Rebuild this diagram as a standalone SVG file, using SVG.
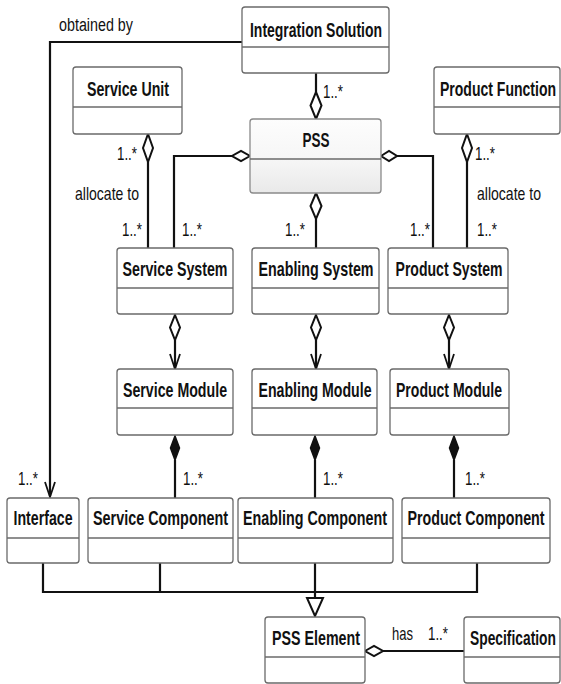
<svg xmlns="http://www.w3.org/2000/svg" width="561" height="684" viewBox="0 0 561 684">
<style>
.box{fill:#fff;stroke:#6a6a6a;stroke-width:1.3}
.div{stroke:#6a6a6a;stroke-width:1.3}
.nm{font-family:"Liberation Sans",Arial,sans-serif;font-weight:bold;font-size:21px;fill:#111;text-anchor:middle}
.lb{font-family:"Liberation Sans",Arial,sans-serif;font-size:18px;fill:#111}
.c{fill:none;stroke:#111;stroke-width:2.2}
.od{fill:#fff;stroke:#111;stroke-width:2}
.fd{fill:#111;stroke:#111;stroke-width:1.5}
.ar{fill:none;stroke:#111;stroke-width:1.8}
</style>
<defs>
<linearGradient id="g" x1="0" y1="0" x2="0" y2="1">
<stop offset="0" stop-color="#fdfdfd"/>
<stop offset="0.55" stop-color="#f6f6f6"/>
<stop offset="1" stop-color="#e9e9e9"/>
</linearGradient>
</defs>
<rect width="561" height="684" fill="#fff"/>

<g id="connectors">
<polyline class="c" points="242,42 50,42 50,496"/>
<polyline class="ar" points="45,482 50,497 55,482"/>
<line class="c" x1="316" y1="73" x2="316" y2="92"/>
<polygon class="od" points="316,92 321.5,105.5 316,119 310.5,105.5"/>
<line class="c" x1="148" y1="162" x2="148" y2="248"/>
<polygon class="od" points="148,134 153,148 148,162 143,148"/>
<polyline class="c" points="232,156 174,156 174,248"/>
<polygon class="od" points="250,156 241,161 232,156 241,151"/>
<line class="c" x1="316" y1="219" x2="316" y2="248"/>
<polygon class="od" points="316,193 321.5,206 316,219 310.5,206"/>
<polyline class="c" points="397,156 433,156 433,248"/>
<polygon class="od" points="381,156 389,151 397,156 389,161"/>
<line class="c" x1="467" y1="162" x2="467" y2="248"/>
<polygon class="od" points="467,134 472,148 467,162 462,148"/>

<line class="c" x1="175" y1="340" x2="175" y2="368"/>
<polygon class="od" points="175,315 180,327.5 175,340 170,327.5"/>
<polyline class="ar" points="170,354 175,369 180,354"/>
<line class="c" x1="316" y1="340" x2="316" y2="368"/>
<polygon class="od" points="316,315 321,327.5 316,340 311,327.5"/>
<polyline class="ar" points="311,354 316,369 321,354"/>
<line class="c" x1="449" y1="340" x2="449" y2="368"/>
<polygon class="od" points="449,315 454,327.5 449,340 444,327.5"/>
<polyline class="ar" points="444,354 449,369 454,354"/>

<line class="c" x1="175" y1="460" x2="175" y2="498"/>
<polygon class="fd" points="175,436 179.5,448 175,460 170.5,448"/>
<line class="c" x1="315" y1="460" x2="315" y2="498"/>
<polygon class="fd" points="315,436 319.5,448 315,460 310.5,448"/>
<line class="c" x1="454" y1="460" x2="454" y2="498"/>
<polygon class="fd" points="454,436 458.5,448 454,460 449.5,448"/>

<polyline class="c" points="43,563 43,592 477,592 477,563"/>
<line class="c" x1="160" y1="563" x2="160" y2="592"/>
<line class="c" x1="315" y1="563" x2="315" y2="598"/>
<polygon class="od" points="307,598 323,598 315,616"/>

<line class="c" x1="383" y1="651" x2="464" y2="651"/>
<polygon class="od" points="365,651 374,646 383,651 374,656"/>

<text class="lb" transform="translate(59,31) scale(0.795,1)" textLength="93" lengthAdjust="spacingAndGlyphs">obtained by</text>
<text class="lb" transform="translate(323,98) scale(0.74,1)" textLength="27" lengthAdjust="spacingAndGlyphs">1..*</text>
<text class="lb" transform="translate(117,160) scale(0.74,1)" textLength="27" lengthAdjust="spacingAndGlyphs">1..*</text>
<text class="lb" transform="translate(75,200) scale(0.78,1)" textLength="82" lengthAdjust="spacingAndGlyphs">allocate to</text>
<text class="lb" transform="translate(122,236) scale(0.74,1)" textLength="27" lengthAdjust="spacingAndGlyphs">1..*</text>
<text class="lb" transform="translate(182,236) scale(0.74,1)" textLength="27" lengthAdjust="spacingAndGlyphs">1..*</text>
<text class="lb" transform="translate(285,236) scale(0.74,1)" textLength="27" lengthAdjust="spacingAndGlyphs">1..*</text>
<text class="lb" transform="translate(410,236) scale(0.74,1)" textLength="27" lengthAdjust="spacingAndGlyphs">1..*</text>
<text class="lb" transform="translate(475,160) scale(0.74,1)" textLength="27" lengthAdjust="spacingAndGlyphs">1..*</text>
<text class="lb" transform="translate(477,200) scale(0.78,1)" textLength="82" lengthAdjust="spacingAndGlyphs">allocate to</text>
<text class="lb" transform="translate(477,236) scale(0.74,1)" textLength="27" lengthAdjust="spacingAndGlyphs">1..*</text>
<text class="lb" transform="translate(18,485) scale(0.74,1)" textLength="27" lengthAdjust="spacingAndGlyphs">1..*</text>
<text class="lb" transform="translate(183,485) scale(0.74,1)" textLength="27" lengthAdjust="spacingAndGlyphs">1..*</text>
<text class="lb" transform="translate(323,485) scale(0.74,1)" textLength="27" lengthAdjust="spacingAndGlyphs">1..*</text>
<text class="lb" transform="translate(465,485) scale(0.74,1)" textLength="27" lengthAdjust="spacingAndGlyphs">1..*</text>
<text class="lb" transform="translate(392,640) scale(0.724,1)" textLength="29" lengthAdjust="spacingAndGlyphs">has</text>
<text class="lb" transform="translate(428,640) scale(0.74,1)" textLength="27" lengthAdjust="spacingAndGlyphs">1..*</text>
</g>

<g id="integration-solution">
<rect class="box" x="242" y="7" width="147" height="66" rx="3"/>
<line class="div" x1="242" y1="47" x2="389" y2="47"/>
<text class="nm" transform="translate(316,37) scale(0.666,1)" textLength="198.3" lengthAdjust="spacingAndGlyphs">Integration Solution</text>
</g>
<g id="service-unit">
<rect class="box" x="73" y="67" width="109" height="67" rx="3"/>
<line class="div" x1="73" y1="107" x2="182" y2="107"/>
<text class="nm" transform="translate(128,96) scale(0.675,1)" textLength="121.4" lengthAdjust="spacingAndGlyphs">Service Unit</text>
</g>
<g id="product-function">
<rect class="box" x="434" y="67" width="126" height="67" rx="3"/>
<line class="div" x1="434" y1="107" x2="560" y2="107"/>
<text class="nm" transform="translate(498,96) scale(0.622,1)" textLength="186.5" lengthAdjust="spacingAndGlyphs">Product Function</text>
</g>
<g id="pss">
<rect x="250" y="119" width="131" height="74" rx="3" fill="url(#g)" stroke="#8a8a8a" stroke-width="1.3"/>
<line class="div" x1="250" y1="159" x2="381" y2="159"/>
<text class="nm" transform="translate(316,147) scale(0.643,1)" textLength="42" lengthAdjust="spacingAndGlyphs">PSS</text>
</g>
<g id="service-system">
<rect class="box" x="117" y="248" width="116" height="66" rx="3"/>
<line class="div" x1="117" y1="288" x2="233" y2="288"/>
<text class="nm" transform="translate(175,276) scale(0.676,1)" textLength="155.3" lengthAdjust="spacingAndGlyphs">Service System</text>
</g>
<g id="enabling-system">
<rect class="box" x="252" y="248" width="127" height="66" rx="3"/>
<line class="div" x1="252" y1="288" x2="379" y2="288"/>
<text class="nm" transform="translate(316,276) scale(0.68,1)" textLength="169.2" lengthAdjust="spacingAndGlyphs">Enabling System</text>
</g>
<g id="product-system">
<rect class="box" x="388" y="248" width="120" height="66" rx="3"/>
<line class="div" x1="388" y1="288" x2="508" y2="288"/>
<text class="nm" transform="translate(449,276) scale(0.669,1)" textLength="159.9" lengthAdjust="spacingAndGlyphs">Product System</text>
</g>
<g id="service-module">
<rect class="box" x="117" y="369" width="116" height="66" rx="3"/>
<line class="div" x1="117" y1="408" x2="233" y2="408"/>
<text class="nm" transform="translate(175,397) scale(0.675,1)" textLength="154.1" lengthAdjust="spacingAndGlyphs">Service Module</text>
</g>
<g id="enabling-module">
<rect class="box" x="252" y="369" width="125" height="66" rx="3"/>
<line class="div" x1="252" y1="408" x2="377" y2="408"/>
<text class="nm" transform="translate(315,397) scale(0.673,1)" textLength="168" lengthAdjust="spacingAndGlyphs">Enabling Module</text>
</g>
<g id="product-module">
<rect class="box" x="390" y="369" width="119" height="66" rx="3"/>
<line class="div" x1="390" y1="408" x2="509" y2="408"/>
<text class="nm" transform="translate(449,397) scale(0.668,1)" textLength="158.7" lengthAdjust="spacingAndGlyphs">Product Module</text>
</g>
<g id="interface">
<rect class="box" x="7" y="498" width="72" height="65" rx="3"/>
<line class="div" x1="7" y1="538" x2="79" y2="538"/>
<text class="nm" transform="translate(43,525) scale(0.674,1)" textLength="87.5" lengthAdjust="spacingAndGlyphs">Interface</text>
</g>
<g id="service-component">
<rect class="box" x="88" y="498" width="145" height="65" rx="3"/>
<line class="div" x1="88" y1="538" x2="233" y2="538"/>
<text class="nm" transform="translate(160.5,525) scale(0.685,1)" textLength="197.2" lengthAdjust="spacingAndGlyphs">Service Component</text>
</g>
<g id="enabling-component">
<rect class="box" x="238" y="498" width="155" height="65" rx="3"/>
<line class="div" x1="238" y1="538" x2="393" y2="538"/>
<text class="nm" transform="translate(315,525) scale(0.682,1)" textLength="211.2" lengthAdjust="spacingAndGlyphs">Enabling Component</text>
</g>
<g id="product-component">
<rect class="box" x="402" y="498" width="148" height="65" rx="3"/>
<line class="div" x1="402" y1="538" x2="550" y2="538"/>
<text class="nm" transform="translate(476,525) scale(0.679,1)" textLength="201.8" lengthAdjust="spacingAndGlyphs">Product Component</text>
</g>
<g id="pss-element">
<rect class="box" x="265" y="617" width="100" height="66" rx="3"/>
<line class="div" x1="265" y1="657" x2="365" y2="657"/>
<text class="nm" transform="translate(316,645) scale(0.679,1)" textLength="129.5" lengthAdjust="spacingAndGlyphs">PSS Element</text>
</g>
<g id="specification">
<rect class="box" x="464" y="617" width="96" height="66" rx="3"/>
<line class="div" x1="464" y1="657" x2="560" y2="657"/>
<text class="nm" transform="translate(513,645) scale(0.658,1)" textLength="130.7" lengthAdjust="spacingAndGlyphs">Specification</text>
</g>
</svg>
